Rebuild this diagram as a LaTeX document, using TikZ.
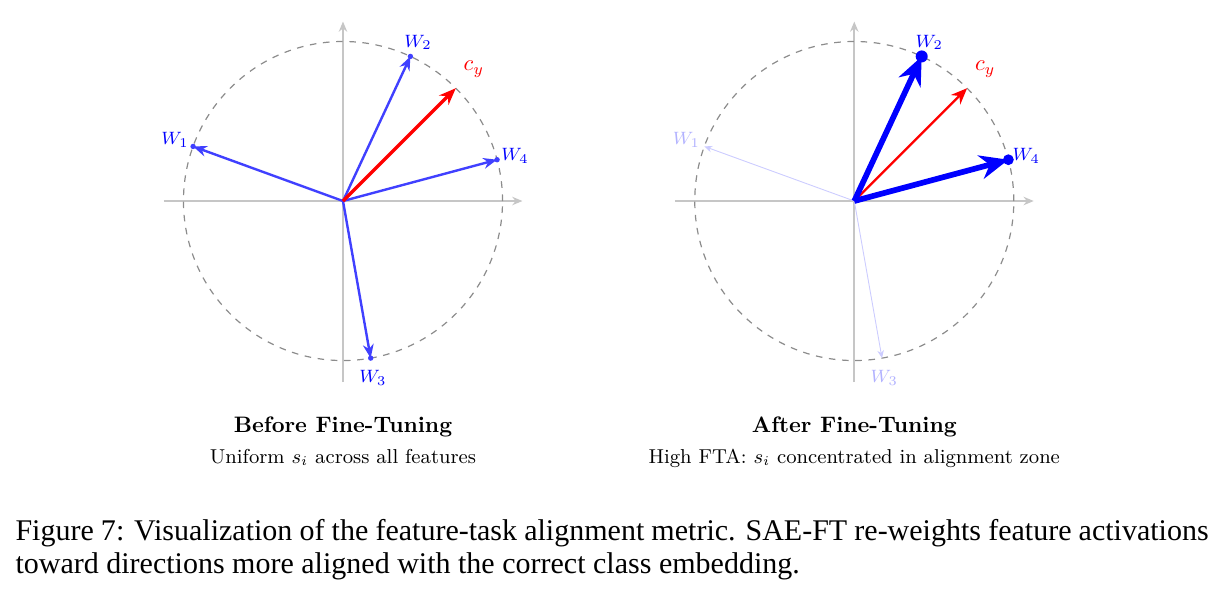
\documentclass[tikz,border=0pt]{standalone}
\usepackage{fontspec}
\newfontfamily\captionserif{Liberation Serif}
\usetikzlibrary{arrows.meta}

% labels were set at full size and then shrunk with the figure
\newcommand{\shrinktext}[1]{\scalebox{0.745}{#1}}

\begin{document}
\begin{tikzpicture}[
    x=0.934cm,
    y=0.934cm,
    axisline/.style={
        draw=gray!45,
        line width=0.55pt,
        -{Stealth[length=3.4pt,width=2.8pt]}
    },
    unitring/.style={
        draw=gray!90,
        line width=0.4pt,
        dash pattern=on 2.2pt off 2.2pt
    },
    featvec/.style={
        draw=blue!75,
        line width=0.8pt,
        -{Stealth[length=4.6pt,width=3.6pt]}
    },
    strongvec/.style={
        draw=blue,
        line width=1.9pt,
        -{Stealth[length=9.5pt,width=8pt]}
    },
    weakvec/.style={
        draw=blue!20,
        line width=0.3pt,
        -{Stealth[length=2.6pt,width=2.2pt]}
    },
    classvec/.style={
        draw=red,
        line width=1.1pt,
        -{Stealth[length=5.6pt,width=4.4pt]}
    },
    thinclassvec/.style={
        draw=red,
        line width=0.75pt,
        -{Stealth[length=5.4pt,width=4.4pt]}
    },
    veclabel/.style={
        text=blue,
        inner sep=0pt,
        font=\footnotesize
    },
    classlabel/.style={
        text=red,
        inner sep=0pt,
        font=\normalsize
    },
    paneltitle/.style={
        anchor=base,
        inner sep=0pt,
        font=\normalsize\bfseries
    },
    panelnote/.style={
        anchor=base,
        inner sep=0pt,
        font=\small
    },
    captext/.style={
        anchor=base west,
        inner sep=0pt,
        text width=397.5pt,
        align=justify,
        font=\captionserif\fontsize{10}{11}\selectfont
    }
]

\useasboundingbox (-4.30,-4.94) rectangle (10.97,2.52);

% Before fine-tuning
\coordinate (bO) at (0,0);
\coordinate (bxl) at (-2.25,0);
\coordinate (bxr) at (2.25,0);
\coordinate (byb) at (0,-2.27);
\coordinate (byt) at (0,2.25);

\draw[axisline] (bxl) -- (bxr);
\draw[axisline] (byb) -- (byt);
\draw[unitring] (bO) circle[radius=2];

\coordinate (bw1) at (160:2);
\coordinate (bw2) at (65:2);
\coordinate (bw3) at (-80:2);
\coordinate (bw4) at (15:2);
\coordinate (bcy) at (45:2);

\draw[featvec] (bO) -- (bw1);
\draw[featvec] (bO) -- (bw2);
\draw[featvec] (bO) -- (bw3);
\draw[featvec] (bO) -- (bw4);
\draw[classvec] (bO) -- (bcy);

\fill[blue!75] (bw1) circle (0.9pt);
\fill[blue!75] (bw2) circle (0.9pt);
\fill[blue!75] (bw3) circle (0.9pt);
\fill[blue!75] (bw4) circle (0.9pt);

\node[veclabel] (bw1lab) at (160:2.24) {\shrinktext{$W_1$}};
\node[veclabel] (bw2lab) at (64.7:2.2) {\shrinktext{$W_2$}};
\node[veclabel] (bw3lab) at (-80.4:2.25) {\shrinktext{$W_3$}};
\node[veclabel] (bw4lab) at (14.7:2.23) {\shrinktext{$W_4$}};
\node[classlabel] (bcylab) at (45.2:2.33) {\shrinktext{$c_y$}};

\node[paneltitle] (btitle) at (0,-2.90)
{\shrinktext{Before Fine-Tuning}};
\node[panelnote] (bnote) at (0,-3.29)
{\shrinktext{Uniform $s_i$ across all features}};

% After fine-tuning
\begin{scope}[shift={(6.41,0)}]
\coordinate (aO) at (0,0);
\coordinate (axl) at (-2.25,0);
\coordinate (axr) at (2.25,0);
\coordinate (ayb) at (0,-2.27);
\coordinate (ayt) at (0,2.25);

\draw[axisline] (axl) -- (axr);
\draw[axisline] (ayb) -- (ayt);
\draw[unitring] (aO) circle[radius=2];

\coordinate (aw1) at (160:2);
\coordinate (aw2) at (65:2);
\coordinate (aw3) at (-80:2);
\coordinate (aw4) at (15:2);
\coordinate (acy) at (45:2);

\draw[weakvec] (aO) -- (aw1);
\draw[weakvec] (aO) -- (aw3);
\draw[thinclassvec] (aO) -- (acy);
\draw[strongvec] (aO) -- (aw2);
\draw[strongvec] (aO) -- (aw4);

\fill[blue] (aw2) circle (2pt);
\fill[blue] (aw4) circle (1.8pt);

\node[veclabel,text=blue!30] (aw1lab) at (160:2.24) {\shrinktext{$W_1$}};
\node[veclabel] (aw2lab) at (64.7:2.2) {\shrinktext{$W_2$}};
\node[veclabel,text=blue!30] (aw3lab) at (-80.4:2.25) {\shrinktext{$W_3$}};
\node[veclabel] (aw4lab) at (14.7:2.23) {\shrinktext{$W_4$}};
\node[classlabel] (acylab) at (45.2:2.33) {\shrinktext{$c_y$}};

\node[paneltitle] (atitle) at (0,-2.90)
{\shrinktext{After Fine-Tuning}};
\node[panelnote] (anote) at (0,-3.29)
{\shrinktext{High FTA: $s_i$ concentrated in alignment zone}};
\end{scope}

% Caption
\node[captext] (caption) at (-4.113,-4.251)
{Figure 7: Visualization of the feature-task alignment metric. SAE-FT re-weights feature activations toward directions more aligned with the correct class embedding.};

\end{tikzpicture}
\end{document}
